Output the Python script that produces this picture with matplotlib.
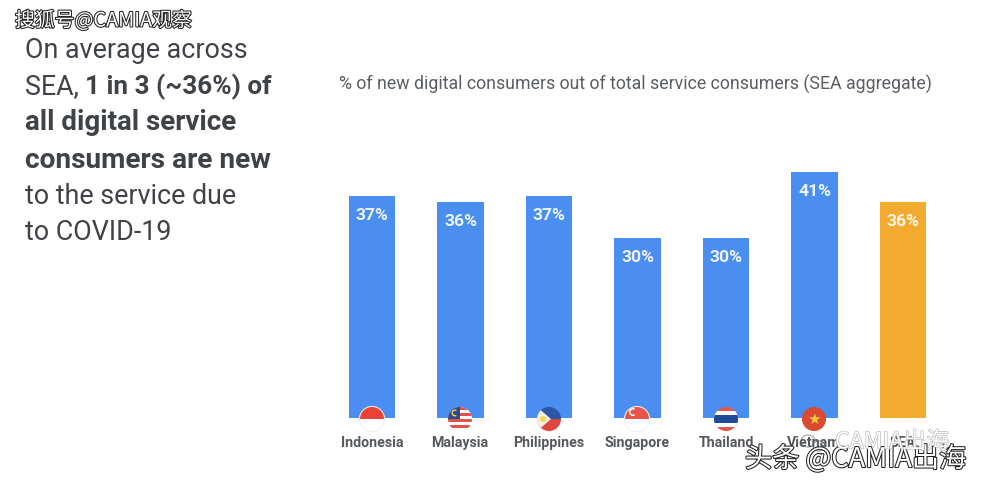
import matplotlib
matplotlib.use("Agg")
import matplotlib.pyplot as plt
import matplotlib.patheffects as pe
from matplotlib.patches import Circle, Ellipse, Rectangle, Polygon, Wedge

countries = ["Indonesia", "Malaysia", "Philippines", "Singapore", "Thailand", "Vietnam", "SEA"]
valores = [37, 36, 37, 30, 30, 41, 36]
colores = ["#4a8eef"] * 6 + ["#f2ab2e"]
titulo = "% of new digital consumers out of total service consumers (SEA aggregate)"

W, H = 983, 488
plt.rcParams['font.family'] = ['Roboto', 'Noto Sans CJK SC', 'DejaVu Sans']
fig = plt.figure(figsize=(W / 100, H / 100), dpi=100)

# ejes de las barras: base en y=418, 6 px por punto
ax = fig.add_axes([330 / W, (H - 418) / H, 630 / W, 318 / H])
x = list(range(len(valores)))
ax.bar(x, valores, width=0.53, color=colores)
ax.set_xlim(-0.475, 6.644)
ax.set_ylim(0, 53)
ax.axis('off')
for xi, v in zip(x, valores):
    ax.annotate(f"{v}%", (xi, v), xytext=(0, -12), textcoords='offset pixels', ha='center', va='top',
                color='white', fontsize=12.6, fontweight='bold', alpha=0.9)

# capa en pixeles para textos y banderas
top = fig.add_axes([0, 0, 1, 1])
top.set_xlim(0, W)
top.set_ylim(H, 0)
top.axis('off')
top.patch.set_alpha(0)

gris = "#3f4246"
fs = 19.4
top.text(25, 51, "On average across", fontsize=fs, color=gris, va='center')
top.text(25, 87, "SEA,", fontsize=fs, color=gris, va='center')
top.text(85, 87, "1 in 3 (~36%) of", fontsize=18.8, color=gris, va='center', fontweight='bold')
top.text(25, 123, "all digital service", fontsize=20, color=gris, va='center', fontweight='bold')
top.text(25, 160, "consumers are new", fontsize=20.2, color=gris, va='center', fontweight='bold')
top.text(25, 196, "to the service due", fontsize=fs, color=gris, va='center')
top.text(25, 232, "to COVID-19", fontsize=fs, color=gris, va='center')

top.text(339, 84, titulo, fontsize=12.8, color="#5a5d61", va='center')

centros = [372, 460, 549, 637, 726, 814]
for c, nombre in zip(centros + [903], countries):
    top.text(c, 447, nombre, fontsize=10.2, color="#55585c", va='baseline', ha='center', fontweight='bold')


def bandera(cx, partes, cy=419, r=12):
    clip = Circle((cx, cy), r, transform=top.transData)
    for p in partes:
        top.add_patch(p)
        p.set_clip_path(clip)


def franja(cx, y0, y1, color):
    return Rectangle((cx - 13, y0), 26, y1 - y0, color=color, lw=0)


top.add_patch(Circle((372, 419), 12.5, fc='white', ec='#eeeeee', lw=0.8))
bandera(372, [franja(372, 406, 419, "#ea4335"), franja(372, 419, 432, "#ffffff")])

cx = 460
partes = [franja(cx, 406, 432, "#ffffff")]
for y0 in (407, 413, 419, 425):
    partes.append(franja(cx, y0, y0 + 3, "#e0524a"))
partes.append(Rectangle((cx - 13, 406), 13, 13, color="#2a4a8f", lw=0))
bandera(cx, partes)
top.add_patch(Wedge((455, 413), 3.5, 60, 300, width=1.4, color="#f6d255", lw=0))

cx = 549
bandera(cx, [franja(cx, 406, 419, "#2f55a5"), franja(cx, 419, 432, "#e0473c"),
             Polygon([(cx - 13, 406), (cx + 2, 419), (cx - 13, 432)], color="#f4f0e4", lw=0),
             Circle((cx - 6, 419), 3, color="#f5d35c", lw=0)])

cx = 637
top.add_patch(Circle((cx, 419), 12.5, fc='white', ec='#eeeeee', lw=0.8))
bandera(cx, [franja(cx, 406, 419, "#e8544b"), franja(cx, 419, 432, "#ffffff")])
top.add_patch(Wedge((633, 412), 4, 60, 300, width=1.5, color="white", lw=0))

cx = 726
bandera(cx, [franja(cx, 406, 432, "#e2574c"), franja(cx, 411, 427, "#ffffff"),
             franja(cx, 415, 423, "#1f4a96")])

cx = 814
top.add_patch(Circle((cx, 419), 12, color="#db4a30", lw=0))
top.text(cx, 419, "★", fontsize=11, color="#f8c93e", ha='center', va='center', family='DejaVu Sans')

# marcas de agua
borde = [pe.withStroke(linewidth=1.5, foreground="#222222")]
cjk = ['Noto Sans CJK SC', 'DejaVu Sans']
top.text(15, 21, "搜狐号@CAMIA观察", fontsize=14.3, color='white', va='center', path_effects=borde, family=cjk)
top.text(745, 459, "头条 @CAMIA出海", fontsize=19.6, color='white', va='center', path_effects=borde, family=cjk)
top.text(835, 442, "CAMIA出海", fontsize=16.6, color='white', va='center', alpha=0.9,
         path_effects=[pe.withStroke(linewidth=0.8, foreground="#aaaaaa")], family=cjk)
top.add_patch(Ellipse((808, 441), 14, 12, fc='none', ec='#aaaaaa', lw=0.9))
top.add_patch(Ellipse((819, 446), 12, 10, fc='white', ec='#aaaaaa', lw=0.9))

fig.savefig("out.png", dpi=100)
